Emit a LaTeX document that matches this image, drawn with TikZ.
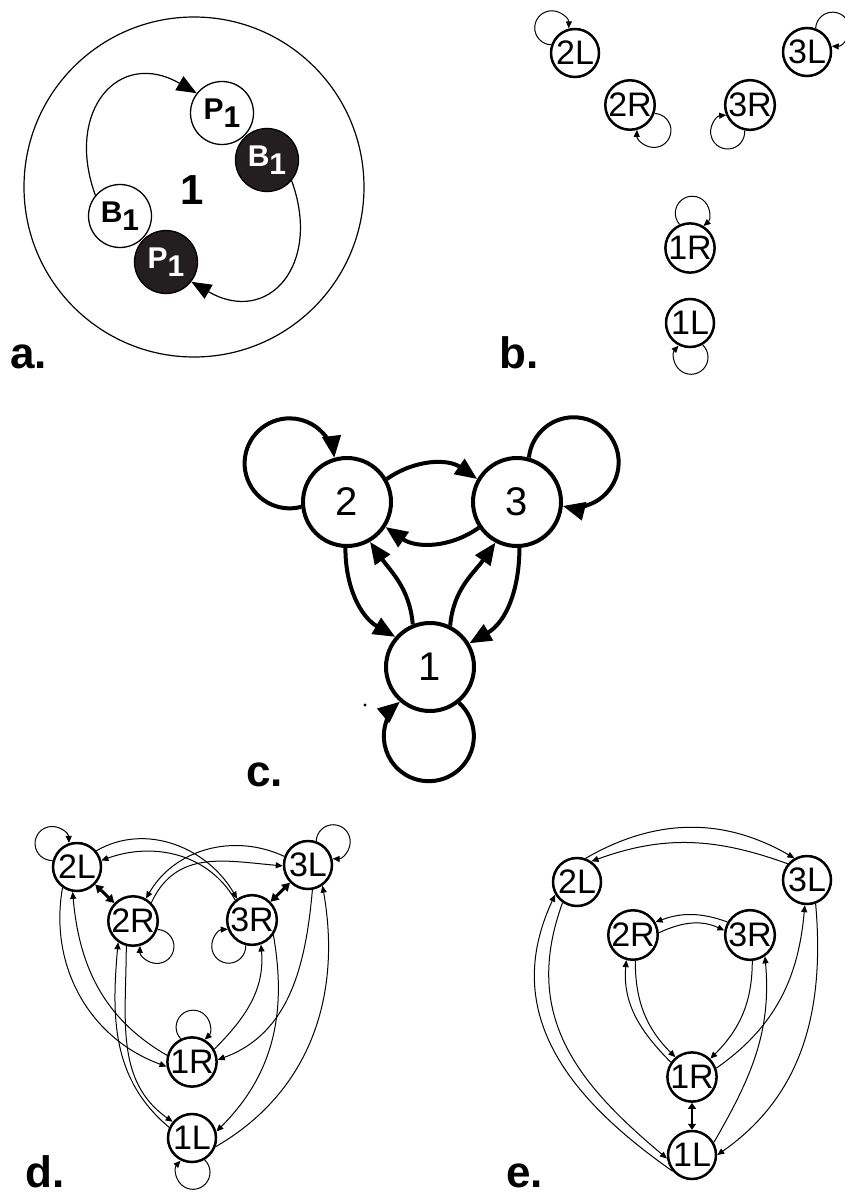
\documentclass[tikz,border=0pt]{standalone}
\usepackage{fontspec}
\setmainfont{Liberation Sans}
\usetikzlibrary{arrows.meta}
\definecolor{ink}{RGB}{35,31,32}

\begin{document}
\begin{tikzpicture}[x=1pt,y=1pt,
  lbl/.style={font=\fontsize{44}{44}\selectfont\bfseries,anchor=base west,inner sep=0pt},
  cell/.style={circle,draw,line width=2.5pt,minimum size=48pt,inner sep=0pt,font=\fontsize{34}{34}\selectfont},
  bigcell/.style={circle,draw,line width=4pt,minimum size=88pt,inner sep=0pt,font=\fontsize{40}{40}\selectfont},
  ball/.style={circle,draw,line width=1.3pt,minimum size=63pt,inner sep=0pt,font=\fontsize{30}{30}\selectfont\bfseries},
  link/.style={line width=1pt,-{Triangle[length=7pt,width=6pt]}},
  dbl/.style={line width=3pt,{Triangle[length=8pt,width=9pt]}-{Triangle[length=8pt,width=9pt]}},
  fat/.style={line width=4pt,-{Triangle[length=22pt,width=18pt]}},
  arc/.style={line width=1.2pt,-{Triangle[length=20pt,width=16pt]}}]
\useasboundingbox (0,0) rectangle (845,-1196);

% a.
\draw[line width=1.2pt] (194,-187) circle (170);
\node[ball,fill=white] (aP) at (222,-113) {P\raisebox{-8pt}{1}};
\node[ball,fill=ink,text=white] (aB) at (267,-160) {B\raisebox{-8pt}{1}};
\node[ball,fill=white] (aBw) at (120,-216) {B\raisebox{-8pt}{1}};
\node[ball,fill=ink,text=white] (aPk) at (166,-262) {P\raisebox{-8pt}{1}};
\node[font=\fontsize{42}{42}\selectfont\bfseries] (aone) at (192,-190) {1};
\draw[arc] (aBw.140) to[out=110,in=150,looseness=1.6] (aP.142);
\draw[arc] (aB.-40) to[out=-70,in=-30,looseness=1.6] (aPk.-38);
\node[lbl] (la) at (10,-368) {a.};

% b.
\foreach \n/\x/\y in {2L/575/53, 3L/807/52, 2R/630/105, 3R/750/105, 1R/690/248, 1L/690/323}
  \node[cell] (b\n) at (\x,-\y) {\n};
\foreach \n/\p [evaluate=\p as \s using int(\p+28), evaluate=\p as \a using int(\p+135)]
    in {2L/133, 3L/42, 2R/-47, 3R/-130, 1R/86, 1L/-88}
  \draw[link] (b\n.\s) arc[start angle=\a, delta angle=-270, radius=17pt];
\node[lbl] (lb) at (499,-368) {b.};

% c.
\node[bigcell] (c2) at (347,-502) {2};
\node[bigcell] (c3) at (517,-502) {3};
\node[bigcell] (c1) at (430,-667) {1};
\foreach \n/\p [evaluate=\p as \s using int(\p+40), evaluate=\p as \a using int(\p+139)]
    in {2/146, 3/35, 1/-91}
  \draw[fat] (c\n.\s) arc[start angle=\a, delta angle=-278, radius=45pt];
\draw[fat] (c2.30) to[out=35,in=145] (c3.150);
\draw[fat] (c3.214) to[out=-145,in=-35] (c2.-33);
\draw[fat] (c2.-92) to[out=-90,in=150] (c1.139);
\draw[fat] (c1.112) to[out=95,in=-55] (c2.-60);
\draw[fat] (c1.64) to[out=85,in=-125] (c3.-118);
\draw[fat] (c3.-87) to[out=-90,in=30] (c1.31);
\fill (365,-705) circle (1.6);
\node[lbl] (lc) at (246,-786) {c.};

% d.
\foreach \n/\x/\y in {2L/77/867, 3L/308/865, 2R/133/921, 3R/252/920, 1R/192/1062, 1L/192/1138}
  \node[cell] (d\n) at (\x,-\y) {\n};
\foreach \n/\p [evaluate=\p as \s using int(\p+28), evaluate=\p as \a using int(\p+135)]
    in {2L/137, 3L/43, 2R/-47, 3R/-132, 1R/88, 1L/-88}
  \draw[link] (d\n.\s) arc[start angle=\a, delta angle=-270, radius=17pt];
\draw[dbl] (d2L) -- (d2R);
\draw[dbl] (d3L) -- (d3R);
\draw[link] (d2L.40) to[out=30,in=120] (d3R.125);
\draw[link] (d3R.130) to[out=120,in=20] (d2L.15);
\draw[link] (d3L.160) to[out=155,in=60] (d2R.60);
\draw[link] (d2R.45) to[out=65,in=175,looseness=1.1] (d3L.182);
\draw[link] (d2L.-125) to[out=-100,in=160] (d1R.190);
\draw[link] (d1R.165) to[out=150,in=-85] (d2L.-100);
\draw[link] (d2R.-105) to[out=-90,in=145] (d1L.140);
\draw[link] (d1L.155) to[out=140,in=-95] (d2R.-125);
\draw[link] (d1R.30) to[out=45,in=-85] (d3R.-70);
\draw[link] (d3R.-35) to[out=-80,in=45] (d1L.15);
\draw[link] (d3L.-80) to[out=-95,in=20] (d1R.5);
\draw[link] (d1L.-20) to[out=30,in=-80] (d3L.-55);
\node[lbl] (ld) at (25,-1187) {d.};

% e.
\foreach \n/\x/\y in {2L/577/882, 3L/807/880, 2R/633/935, 3R/750/935, 1R/692/1077, 1L/692/1155}
  \node[cell] (e\n) at (\x,-\y) {\n};
\draw[link] (e2L.70) to[out=30,in=150] (e3L.120);
\draw[link] (e3L.140) to[out=160,in=20] (e2L.55);
\draw[link] (e2R.5) to[out=25,in=155] (e3R.170);
\draw[link] (e3R.150) to[out=160,in=20] (e2R.30);
\draw[link] (e1R.145) to[out=135,in=-95] (e2R.-105);
\draw[link] (e2R.-85) to[out=-90,in=135] (e1R.130);
\draw[link] (e3R.-85) to[out=-90,in=45] (e1R.45);
\draw[link] (e1R.20) to[out=35,in=-95] (e3L.-95);
\draw[link] (e1L.30) to[out=60,in=-85] (e3R.-55);
\draw[link] (e3L.-70) to[out=-85,in=35] (e1L.0);
\draw[line width=2pt,{Triangle[length=6pt,width=8pt]}-{Triangle[length=6pt,width=8pt]}] (e1R) -- (e1L);
\draw[link] (e2L.-125) to[out=-110,in=140,looseness=1.1] (e1L.188);
\draw[link] (e1L.220) to[out=145,in=-115,looseness=1.1] (e2L.-150);
\node[lbl] (le) at (506,-1187) {e.};
\end{tikzpicture}
\end{document}
